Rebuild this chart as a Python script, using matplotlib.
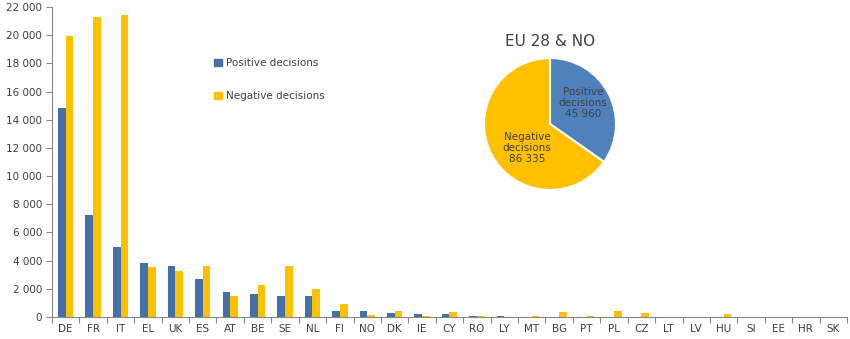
import matplotlib
matplotlib.use("Agg")
import matplotlib.pyplot as plt
import numpy as np
from matplotlib.patches import Patch
from matplotlib.ticker import FuncFormatter

countries = ["DE", "FR", "IT", "EL", "UK", "ES", "AT", "BE", "SE", "NL", "FI", "NO", "DK", "IE",
             "CY", "RO", "LY", "MT", "BG", "PT", "PL", "CZ", "LT", "LV", "HU", "SI", "EE", "HR", "SK"]
positive = [14800, 7250, 5000, 3800, 3600, 2700, 1800, 1600, 1500, 1500, 400, 400, 300, 220,
            220, 100, 40, 30, 15, 20, 15, 10, 10, 5, 10, 5, 5, 5, 5]
negative = [19950, 21280, 21440, 3550, 3250, 3650, 1500, 2250, 3600, 2000, 900, 170, 400, 100,
            380, 80, 30, 40, 320, 100, 400, 260, 20, 10, 190, 10, 10, 10, 10]
pie_labels = ["Positive\ndecisions\n45 960", "Negative\ndecisions\n86 335"]
pie_values = [45960, 86335]
pie_title = "EU 28 & NO"
legend_labels = ["Positive decisions", "Negative decisions"]

blue_bar = "#4470AA"
yellow = "#FFC000"
blue_pie = "#4F81BD"
axis_gray = "#868686"
text_col = "#404040"

W, H = 850, 339
fig = plt.figure(figsize=(W / 100, H / 100), dpi=100)
ax = fig.add_axes([52 / W, (H - 317) / H, (847 - 52) / W, (317 - 7) / H])

x = np.arange(len(countries))
bw = 0.28
ax.bar(x - bw / 2, positive, width=bw, color=blue_bar, label=legend_labels[0])
ax.bar(x + bw / 2, negative, width=bw, color=yellow, label=legend_labels[1])

ax.set_xlim(-0.5, len(countries) - 0.5)
ax.set_ylim(0, 22000)
ax.set_yticks(np.arange(0, 22001, 2000))
ax.yaxis.set_major_formatter(FuncFormatter(lambda v, p: f"{int(v):,}".replace(",", " ")))
ax.set_xticks(x)
ax.set_xticklabels(countries)
ax.set_xticks(np.arange(-0.5, len(countries), 1.0), minor=True)
ax.tick_params(axis="x", which="major", length=0, pad=5, labelsize=7.5, labelcolor=text_col)
ax.tick_params(axis="x", which="minor", length=4, width=0.8, color=axis_gray, direction="out")
ax.tick_params(axis="y", length=4, width=0.8, color=axis_gray, labelsize=7.5, labelcolor=text_col, pad=3)
for s in ["top", "right"]:
    ax.spines[s].set_visible(False)
for s in ["left", "bottom"]:
    ax.spines[s].set_color(axis_gray)
    ax.spines[s].set_linewidth(0.8)

handles = [Patch(color=blue_bar), Patch(color=yellow)]
leg = ax.legend(handles, legend_labels, loc="upper left", bbox_to_anchor=(205 / W, (H - 49) / H),
                bbox_transform=fig.transFigure, frameon=False, fontsize=7.5, labelspacing=2.2,
                handlelength=0.7, handleheight=0.7, handletextpad=0.4)
for t in leg.get_texts():
    t.set_color(text_col)

# pie
cx, cy, r = 550, 124, 66
pax = fig.add_axes([(cx - r) / W, (H - cy - r) / H, 2 * r / W, 2 * r / H])
wedges, _ = pax.pie(pie_values, colors=[blue_pie, yellow], startangle=90, counterclock=False,
                    wedgeprops=dict(edgecolor="white", linewidth=1.5))
pax.set_xlim(-1, 1)
pax.set_ylim(-1, 1)
pax.set_aspect("equal")
pax.text(0.50, 0.32, pie_labels[0], ha="center", va="center", fontsize=7.5, color=text_col, linespacing=1.15)
pax.text(-0.35, -0.36, pie_labels[1], ha="center", va="center", fontsize=7.5, color=text_col, linespacing=1.15)
fig.text(cx / W, 1 - 42 / H, pie_title, ha="center", va="center", fontsize=11, color=text_col)

fig.savefig("out.png", dpi=100)
